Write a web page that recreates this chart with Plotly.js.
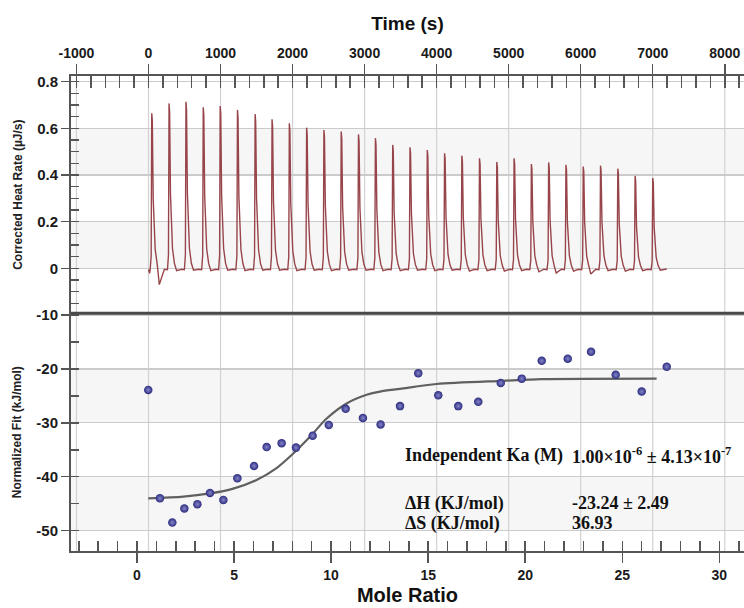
<!DOCTYPE html>
<html><head><meta charset="utf-8">
<script src="https://cdn.plot.ly/plotly-3.0.1.min.js"></script>
<style>html,body{margin:0;padding:0;background:#fff}#chart{width:744px;height:608px}</style>
</head><body><div id="chart"></div>
<script>
// ---- Raw thermogram (top panel) ----
const injectionTimes = [45, 285, 520, 760, 995, 1235, 1480, 1715, 1955, 2195, 2435, 2675, 2915, 3150, 3390,
  3630, 3870, 4110, 4350, 4595, 4835, 5075, 5315, 5555, 5795, 6035, 6275, 6515, 6755, 7000];
const peakHeights = [0.665, 0.707, 0.714, 0.690, 0.696, 0.679, 0.661, 0.639, 0.622, 0.603, 0.593, 0.586, 0.574, 0.558, 0.529,
  0.519, 0.507, 0.493, 0.483, 0.472, 0.456, 0.472, 0.447, 0.454, 0.444, 0.436, 0.440, 0.427, 0.396, 0.387];
const baselineDips = [-0.070, -0.010, -0.008, -0.010, -0.008, -0.010, -0.008, -0.008, -0.010, -0.008, -0.010, -0.008, -0.008, -0.010, -0.010,
  -0.008, -0.010, -0.008, -0.012, -0.010, -0.012, -0.010, -0.015, -0.020, -0.012, -0.025, -0.010, -0.012, -0.010, -0.008];
const runStart = [0, -0.005];
const runEnd = [7195, -0.003];

// ---- Integrated heats (bottom panel) ----
const moleRatio = [0.58, 1.18, 1.82, 2.44, 3.11, 3.76, 4.45, 5.17, 6.03, 6.68, 7.45, 8.19, 9.05, 9.88, 10.75,
  11.64, 12.55, 13.55, 14.49, 15.52, 16.55, 17.58, 18.74, 19.82, 20.85, 22.19, 23.39, 24.66, 26.00, 27.29];
const normalizedHeat = [-23.9, -44.0, -48.5, -45.9, -45.1, -43.0, -44.3, -40.3, -38.0, -34.5, -33.8, -34.6, -32.4, -30.4, -27.4,
  -29.1, -30.3, -26.9, -20.8, -24.9, -26.9, -26.1, -22.6, -21.8, -18.5, -18.1, -16.8, -21.1, -24.2, -19.6];
const fitMoleRatio = [0.58, 2.39, 3.76, 4.96, 6.16, 7.19, 8.05, 8.91, 9.77, 10.80, 11.83, 12.52, 13.55, 15.44, 18.87, 20.85, 26.77];
const fitHeat = [-44.0, -43.7, -43.1, -42.2, -40.6, -38.4, -35.7, -32.6, -29.2, -26.4, -24.8, -24.2, -23.7, -22.8, -22.2, -21.9, -21.8];

// ---- Tick labels ----
const timeTicks = [-1000, 0, 1000, 2000, 3000, 4000, 5000, 6000, 7000, 8000];
const moleTicks = [0, 5, 10, 15, 20, 25, 30];
const heatRateTicks = [0, 0.2, 0.4, 0.6, 0.8];
const fitTicks = [-50, -40, -30, -20, -10];

// ---- Fit results ----
const resultLabels = ['Independent Ka (M)', '\u0394H (KJ/mol)', '\u0394S (KJ/mol)'];
const resultValues = ['1.00\u00d710<sup>-6</sup> \u00b1 4.13\u00d710<sup>-7</sup>', '-23.24 \u00b1 2.49', '36.93'];

// build thermogram line from peak list
const pkDt = [-22, -8, 0, 8, 20, 32, 48, 75];
const pkFr = [0, 0.08, 1, 0.95, 0.45, 0.28, 0.12, 0.03];
const tx = [runStart[0], 15], ty = [runStart[1], -0.022];
injectionTimes.forEach((t, i) => {
  const h = peakHeights[i];
  pkDt.forEach((d, k) => { tx.push(t + d); ty.push(k === 0 ? -0.006 : pkFr[k] * h); });
  tx.push(t + 105); ty.push(baselineDips[i]);
  tx.push(t + 175); ty.push(-0.004);
});
tx.push(runEnd[0]); ty.push(runEnd[1]);

const fam = 'Liberation Sans, Arial, sans-serif';
const yTickFont = {family: fam, size: 15, weight: 'bold', color: '#1a1a1a'};
const xTickFont = {family: fam, size: 14, weight: 'bold', color: '#1a1a1a'};
const axisCol = '#555';

const traces = [
  {x: tx, y: ty, xaxis: 'x', yaxis: 'y', type: 'scatter', mode: 'lines',
   line: {color: '#97454a', width: 1.4}, hoverinfo: 'skip'},
  {x: fitMoleRatio, y: fitHeat, xaxis: 'x2', yaxis: 'y2', type: 'scatter', mode: 'lines',
   line: {color: '#606060', width: 2.2, shape: 'spline', smoothing: 0.8}},
  {x: moleRatio, y: normalizedHeat, xaxis: 'x2', yaxis: 'y2', type: 'scatter', mode: 'markers',
   marker: {size: 8.5, color: '#2c2c7e', gradient: {type: 'radial', color: '#8686cc'}}}
];

const shapes = [];
[[0, 0.2], [0.4, 0.6]].forEach(b => shapes.push({type: 'rect', xref: 'paper', yref: 'y', x0: 0, x1: 1, y0: b[0], y1: b[1],
  fillcolor: '#f6f6f6', line: {width: 0}, layer: 'below'}));
[[-30, -20], [-50, -40]].forEach(b => shapes.push({type: 'rect', xref: 'paper', yref: 'y2', x0: 0, x1: 1, y0: b[0], y1: b[1],
  fillcolor: '#f6f6f6', line: {width: 0}, layer: 'below'}));
timeTicks.forEach(t => shapes.push({type: 'line', xref: 'x', yref: 'paper', x0: t, x1: t, y0: 0, y1: 1,
  line: {color: '#d2d2d2', width: 1.2}, layer: 'below'}));
shapes.push({type: 'line', xref: 'paper', yref: 'paper', x0: 0, x1: 1, y0: 0.5004, y1: 0.5004,
  line: {color: '#4a4a4a', width: 3}});

const annotations = [];
const rowY = [-36.0, -44.9, -48.6];
resultLabels.forEach((lab, i) => {
  const f = {family: 'Liberation Serif, Times New Roman, serif', size: 18, weight: 'bold', color: '#111'};
  annotations.push({xref: 'x2', yref: 'y2', x: 13.7, y: rowY[i], text: lab, showarrow: false, xanchor: 'left', yanchor: 'middle', font: f});
  annotations.push({xref: 'x2', yref: 'y2', x: 22.3, y: rowY[i], text: resultValues[i], showarrow: false, xanchor: 'left', yanchor: 'middle', font: f});
});

const layout = {
  width: 744, height: 608,
  margin: {l: 71, r: 0, t: 76, b: 57, pad: 0},
  paper_bgcolor: '#fff', plot_bgcolor: '#fff',
  showlegend: false,
  xaxis: {anchor: 'y', side: 'top', range: [-1076, 8267], tickvals: timeTicks, ticktext: timeTicks.map(String),
    ticks: 'outside', ticklen: 10, tickwidth: 1.5, tickcolor: axisCol, showgrid: false, zeroline: false,
    showline: true, linecolor: axisCol, linewidth: 2, tickfont: xTickFont,
    minor: {dtick: 200, tick0: 0, ticks: 'inside', ticklen: 12, tickwidth: 1.5, tickcolor: axisCol, showgrid: false},
    title: {text: 'Time (s)', font: {family: fam, size: 19, weight: 'bold', color: '#111'}, standoff: 10}},
  yaxis: {domain: [0.5004, 1], range: [-0.193, 0.8244], tickvals: heatRateTicks, ticktext: heatRateTicks.map(String),
    ticks: 'outside', ticklen: 8, tickwidth: 1.5, tickcolor: axisCol, showgrid: true, gridcolor: '#cbcbcb', gridwidth: 1.2,
    zeroline: false, showline: true, linecolor: axisCol, linewidth: 2, tickfont: yTickFont,
    minor: {dtick: 0.05, tick0: 0, ticks: 'inside', ticklen: 8, tickwidth: 1.5, tickcolor: axisCol, showgrid: false},
    title: {text: 'Corrected Heat Rate (\u00b5J/s)', font: {family: fam, size: 12, weight: 'bold', color: '#222'}, standoff: 12}},
  xaxis2: {anchor: 'y2', side: 'bottom', range: [-3.40, 31.27], tickvals: moleTicks, ticktext: moleTicks.map(String),
    ticks: 'outside', ticklen: 10, tickwidth: 1.5, tickcolor: axisCol, showgrid: false, zeroline: false,
    showline: true, linecolor: axisCol, linewidth: 2, tickfont: xTickFont,
    minor: {dtick: 1, tick0: 0, ticks: 'inside', ticklen: 10, tickwidth: 1.5, tickcolor: axisCol, showgrid: false},
    title: {text: 'Mole Ratio', font: {family: fam, size: 20, weight: 'bold', color: '#111'}, standoff: 6}},
  yaxis2: {domain: [0, 0.5004], range: [-53.78, -9.68], tickvals: fitTicks, ticktext: fitTicks.map(String),
    ticks: 'outside', ticklen: 8, tickwidth: 1.5, tickcolor: axisCol, showgrid: true, gridcolor: '#cbcbcb', gridwidth: 1.2,
    zeroline: false, showline: true, linecolor: axisCol, linewidth: 2, tickfont: yTickFont,
    minor: {dtick: 5, tick0: 0, ticks: 'inside', ticklen: 8, tickwidth: 1.5, tickcolor: axisCol, showgrid: false},
    title: {text: 'Normalized Fit (kJ/mol)', font: {family: fam, size: 12, weight: 'bold', color: '#222'}, standoff: 12}},
  shapes: shapes,
  annotations: annotations
};

Plotly.newPlot('chart', traces, layout, {staticPlot: true, displayModeBar: false});
</script></body></html>
